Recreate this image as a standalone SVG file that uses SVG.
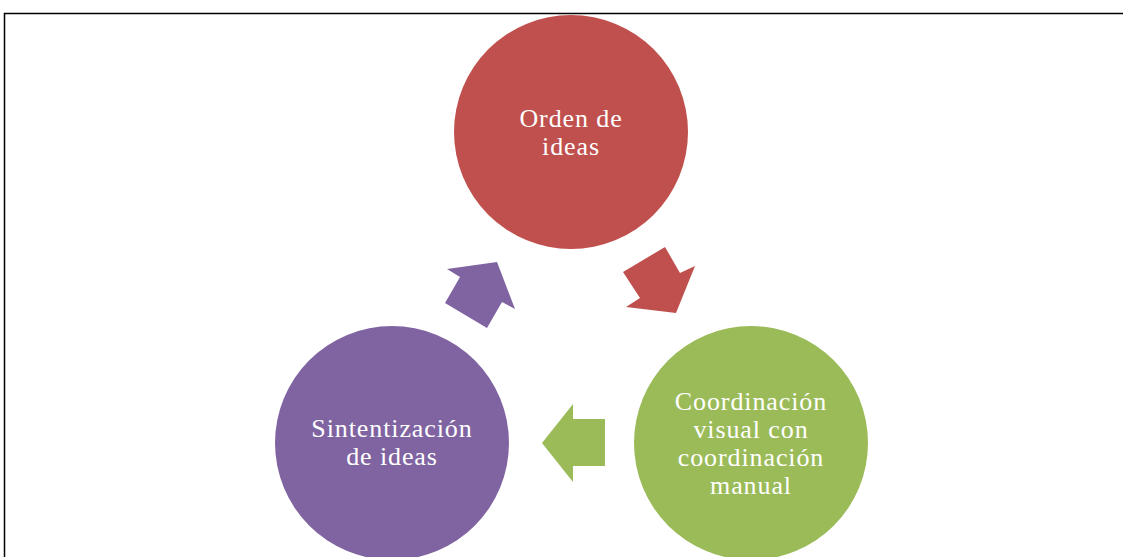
<svg xmlns="http://www.w3.org/2000/svg" width="1123" height="557" viewBox="0 0 1123 557">
<style>
.lbl{font-family:"Liberation Serif","Times New Roman",serif;font-size:26px;letter-spacing:0.9px;fill:#FFFFFF;text-anchor:middle}
</style>
<rect x="0" y="0" width="1123" height="557" fill="#FFFFFF"/>
<path d="M4.5 560 V13.5 H1130" fill="none" stroke="#000000" stroke-width="1.5"/>
<g id="connectors">
<polygon points="623,272 665,247 680,273 695,266 676,313 626,307 640,298" fill="#C0504D"/>
<polygon points="605,419 573,419 573,404 542,443 573,482 573,466 605,466" fill="#9BBB59"/>
<polygon points="487,328 445,303 460,277 447,269 497,262 515,309 502,302" fill="#8064A2"/>
</g>
<g id="node-orden">
<circle cx="571" cy="132" r="117" fill="#C0504D"/>
<text class="lbl" x="571" y="127">Orden de</text>
<text class="lbl" x="571" y="155">ideas</text>
</g>
<g id="node-coordinacion">
<circle cx="751" cy="443" r="117" fill="#9BBB59"/>
<text class="lbl" x="751" y="410">Coordinación</text>
<text class="lbl" x="751" y="438">visual con</text>
<text class="lbl" x="751" y="466">coordinación</text>
<text class="lbl" x="751" y="494">manual</text>
</g>
<g id="node-sintetizacion">
<circle cx="392" cy="443" r="117" fill="#8064A2"/>
<text class="lbl" x="392" y="437">Sintentización</text>
<text class="lbl" x="392" y="465">de ideas</text>
</g>
</svg>
